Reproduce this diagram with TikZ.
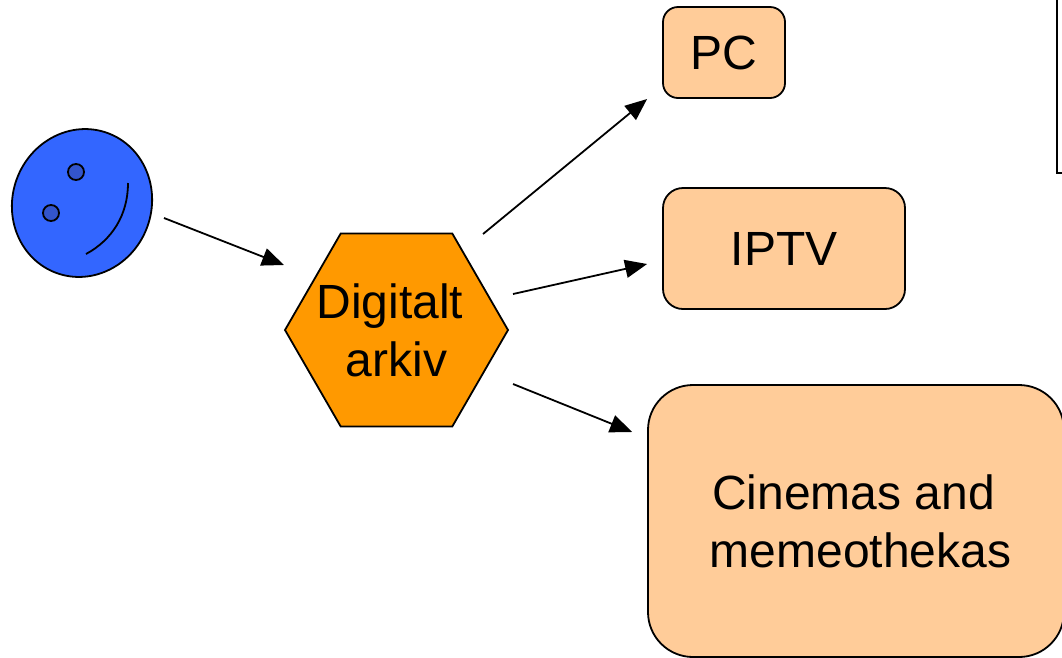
\documentclass[tikz,border=0pt]{standalone}
\usepackage{fontspec}
\setmainfont{Liberation Sans}
\usetikzlibrary{arrows.meta,shapes.geometric}
\definecolor{facecol}{HTML}{3366FF}
\definecolor{eyecol}{HTML}{3355CC}
\definecolor{boxcol}{HTML}{FFCC99}
\definecolor{hexcol}{HTML}{FF9900}
\tikzset{
  outline/.style={draw=black, line width=1.8pt},
  box/.style={outline, fill=boxcol, align=center, inner sep=0pt,
    font=\fontsize{48}{58}\selectfont},
  flow/.style={line width=1.8pt, -{Triangle[length=22pt,width=18pt]}},
}
\begin{document}
\begin{tikzpicture}[x=1pt, y=-1pt]
\useasboundingbox (0,0) rectangle (1062,657);
\draw[outline] (1057,-10) -- (1057,173) -- (1075,173);
% face
\node[outline, ellipse, fill=facecol, inner sep=0pt, minimum width=149pt, minimum height=139pt, rotate=70] (face) at (82,203) {};
\draw[outline, fill=eyecol] (76,172) circle(8pt);
\draw[outline, fill=eyecol] (51,213) circle(8pt);
\draw[outline] (128,183) .. controls (128,215) and (112,240) .. (86,254);
% archive and outlets
\node[box, fill=hexcol, regular polygon, regular polygon sides=6, minimum size=223pt] (arkiv) at (396.5,330) {};
\node[align=center, inner sep=0pt, font=\fontsize{48}{58}\selectfont] (arkivtext) at (arkiv) {Digitalt\hspace*{13pt}\\arkiv};
\node[box, rounded corners=15pt, minimum width=122pt, minimum height=91pt] (pc) at (724,52.5) {PC};
\node[box, rounded corners=20pt, minimum width=242pt, minimum height=121pt] (iptv) at (784,248.5) {IPTV};
\node[box, rounded corners=45pt, minimum width=416pt, minimum height=272pt] (cinemas) at (856,521) {Cinemas and\hspace*{5pt}\\\hspace*{9pt}memeothekas};
% arrows
\draw[flow] ([xshift=82pt,yshift=-15pt]face.center) -- ([yshift=65pt]arkiv.west);
\draw[flow] ([xshift=-26pt,yshift=96pt]arkiv.east) -- ([xshift=-15pt,yshift=-46.5pt]pc.west);
\draw[flow] ([xshift=4pt,yshift=36pt]arkiv.east) -- ([xshift=-15pt,yshift=-15.5pt]iptv.west);
\draw[flow] ([xshift=4pt,yshift=-54pt]arkiv.east) -- ([xshift=-15pt,yshift=89pt]cinemas.west);
\end{tikzpicture}
\end{document}
